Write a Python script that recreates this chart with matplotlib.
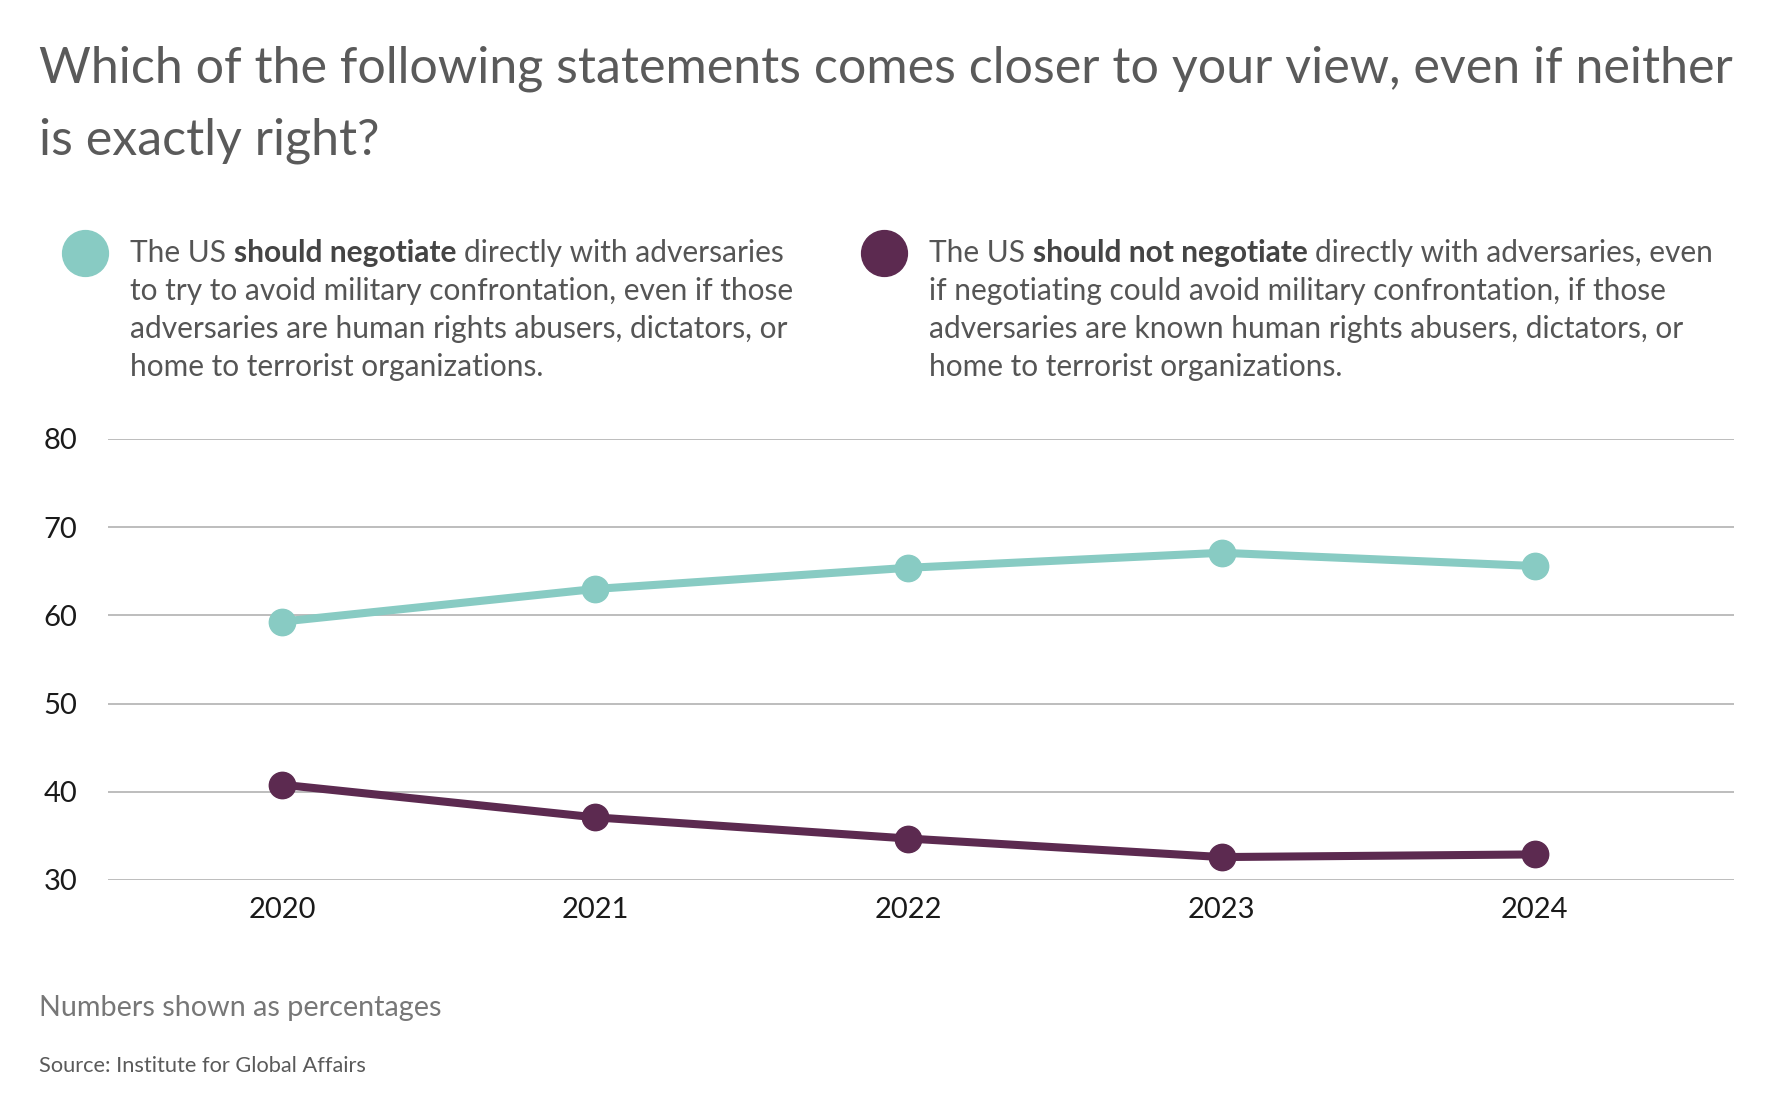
import matplotlib
matplotlib.use('Agg')
import matplotlib.pyplot as plt
from matplotlib.lines import Line2D

years = [2020, 2021, 2022, 2023, 2024]
negotiate = [59.3, 63.0, 65.4, 67.1, 65.6]
not_negotiate = [40.8, 37.1, 34.7, 32.6, 32.9]
yticks = [30, 40, 50, 60, 70, 80]

title_lines = ["Which of the following statements comes closer to your view, even if neither",
               "is exactly right?"]
leg1 = [[("The US", "normal"), ("should negotiate", "bold"), ("directly with adversaries", "normal")],
        [("to try to avoid military confrontation, even if those", "normal")],
        [("adversaries are human rights abusers, dictators, or", "normal")],
        [("home to terrorist organizations.", "normal")]]
leg2 = [[("The US", "normal"), ("should not negotiate", "bold"), ("directly with adversaries, even", "normal")],
        [("if negotiating could avoid military confrontation, if those", "normal")],
        [("adversaries are known human rights abusers, dictators, or", "normal")],
        [("home to terrorist organizations.", "normal")]]
note = "Numbers shown as percentages"
source = "Source: Institute for Global Affairs"

TEAL = '#88CBC3'
PURPLE = '#5C2A50'
W, H = 1775, 1108

plt.rcParams['font.family'] = ['Lato', 'DejaVu Sans']
fig = plt.figure(figsize=(W / 100, H / 100), dpi=100)
renderer = fig.canvas.get_renderer()


def fx(px):
    return px / W


def fy(py):
    return 1 - py / H


def tw(s, size, weight='normal'):
    t = fig.text(0, 0, s, fontsize=size, fontweight=weight)
    w = t.get_window_extent(renderer).width
    t.remove()
    return w


def seg_width(segs, size):
    sp = tw("a a", size) - tw("aa", size)
    total = 0
    for i, (s, wgt) in enumerate(segs):
        total += tw(s, size, wgt)
        if i < len(segs) - 1:
            total += sp
    return total


def fit_size(segs, target, base=20):
    return base * target / seg_width(segs, base)


def draw_segs(x, y, segs, size, colors):
    sp = tw("a a", size) - tw("aa", size)
    cx = x
    for i, (s, wgt) in enumerate(segs):
        c = colors['bold'] if wgt == 'bold' else colors['normal']
        fig.text(fx(cx), fy(y), s, fontsize=size, fontweight=wgt, color=c, va='baseline', ha='left')
        cx += tw(s, size, wgt) + sp


# Title
tsize = fit_size([(title_lines[0], 'normal')], 1696)
for i, line in enumerate(title_lines):
    fig.text(fx(39), fy(83 + i * 72), line, fontsize=tsize, fontweight='normal', color='#5a5a5a', va='baseline')

# Legend
lsize = fit_size(leg1[0], 655)
cols = {'normal': '#555555', 'bold': '#444444'}
for i, segs in enumerate(leg1):
    draw_segs(130, 262 + i * 38, segs, lsize, cols)
for i, segs in enumerate(leg2):
    draw_segs(929, 262 + i * 38, segs, lsize, cols)
fig.add_artist(Line2D([fx(85)], [fy(253)], marker='o', ms=33, color=TEAL, mec=TEAL, transform=fig.transFigure))
fig.add_artist(Line2D([fx(884)], [fy(253)], marker='o', ms=33, color=PURPLE, mec=PURPLE, transform=fig.transFigure))

# Axes
ax = fig.add_axes([fx(108), fy(880), (1734 - 108) / W, (880 - 439) / H])
ax.plot(years, negotiate, color=TEAL, lw=5.8, marker='o', ms=19, clip_on=False, zorder=3,
        solid_capstyle='round')
ax.plot(years, not_negotiate, color=PURPLE, lw=5.8, marker='o', ms=19, clip_on=False, zorder=3,
        solid_capstyle='round')
ax.set_ylim(30, 80)
ax.set_xlim(2019.443, 2024.637)
ax.set_yticks(yticks)
ax.set_xticks(years)
ax.set_xticklabels([str(y) for y in years])
ax.grid(axis='y', color='#b8b8b8', lw=1.3)
ax.set_axisbelow(True)
for s in ax.spines.values():
    s.set_visible(False)
ax.tick_params(axis='both', length=0, labelsize=21, labelcolor='#1a1a1a')
ax.tick_params(axis='y', pad=22)
ax.tick_params(axis='x', pad=12)

# Footnotes
nsize = fit_size([(note, 'normal')], 403)
fig.text(fx(39), fy(1016), note, fontsize=nsize, fontweight='normal', color='#777777', va='baseline')
ssize = fit_size([(source, 'normal')], 327)
fig.text(fx(39), fy(1072), source, fontsize=ssize, fontweight='normal', color='#5a5a5a', va='baseline')

fig.savefig('out.png', dpi=100)
